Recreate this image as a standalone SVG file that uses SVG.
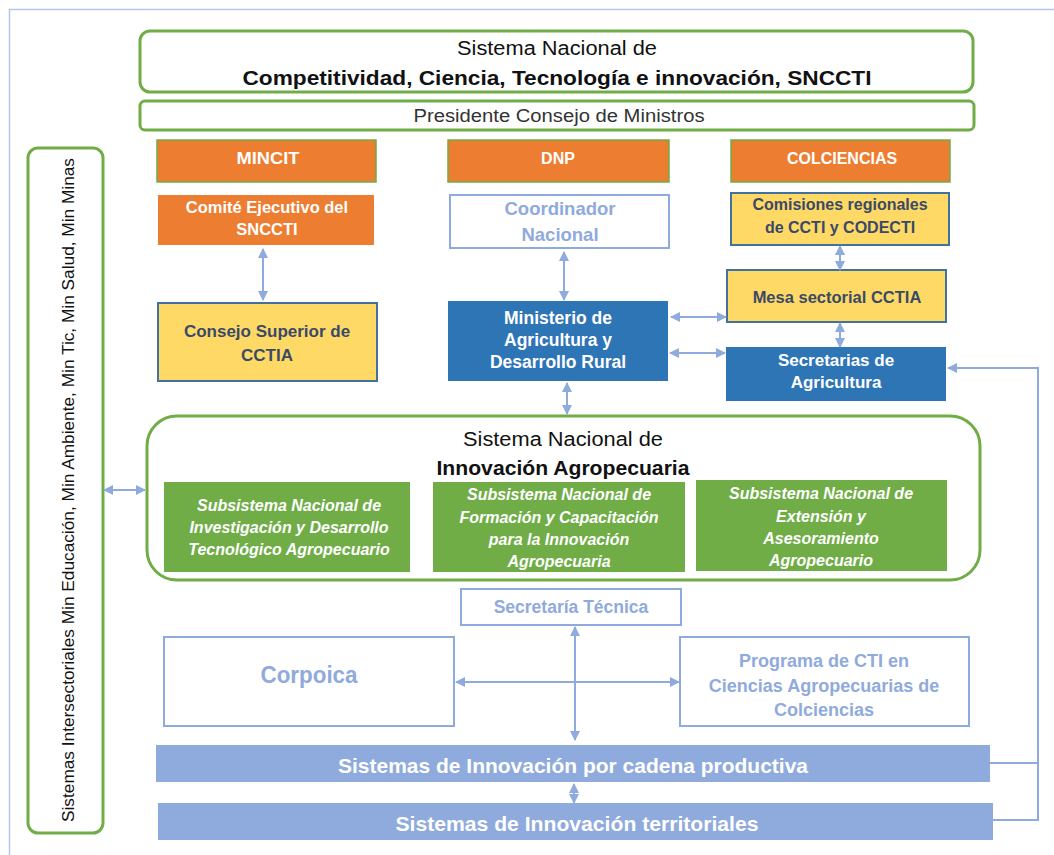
<svg xmlns="http://www.w3.org/2000/svg" width="1054" height="855" viewBox="0 0 1054 855">
<style>
text{font-family:"Liberation Sans",Arial,sans-serif;text-anchor:middle;dominant-baseline:central}
.gframe{fill:#fff;stroke:#70AD47;stroke-width:3}
.org{fill:#ED7D31}
.orgs{fill:#ED7D31;stroke:#70AD47;stroke-width:1.5}
.yel{fill:#FFD966;stroke:#41719C;stroke-width:2}
.blu{fill:#2E75B6}
.lbx{fill:#fff;stroke:#8FAADC;stroke-width:2}
.grn{fill:#70AD47}
.lbf{fill:#8FAADC}
.wt{fill:#fff;font-weight:bold}
.dk{fill:#3A4A66;font-weight:bold}
.lt{fill:#8FAADC;font-weight:bold}
.it{fill:#fff;font-weight:bold;font-style:italic}
.bk{fill:#111}
.con{fill:none;stroke:#8FAADC;stroke-width:2}
</style>
<defs>
<marker id="ah" viewBox="0 0 10 10" refX="9" refY="5" markerWidth="10" markerHeight="10" markerUnits="userSpaceOnUse" orient="auto-start-reverse">
<path d="M0,0 L10,5 L0,10 Z" fill="#8FAADC"/>
</marker>
</defs>
<path d="M9.5,855 V9.5 H1054" fill="none" stroke="#B4C7E7" stroke-width="1.5"/>

<g id="sncct">
<rect class="gframe" x="140" y="31" width="833" height="61" rx="10"/>
<text x="557" y="48" class="bk" font-size="20" textLength="200" lengthAdjust="spacingAndGlyphs">Sistema Nacional de</text>
<text x="557" y="77" class="bk" font-size="21" font-weight="bold" textLength="629" lengthAdjust="spacingAndGlyphs">Competitividad, Ciencia, Tecnología e innovación, SNCCTI</text>
</g>
<g id="presidente">
<rect class="gframe" x="140" y="101" width="834" height="29" rx="5"/>
<text x="559" y="116" fill="#333" font-size="18" textLength="291" lengthAdjust="spacingAndGlyphs">Presidente Consejo de Ministros</text>
</g>

<g id="mincit"><rect class="orgs" x="157" y="140" width="219" height="42"/><text class="wt" x="268" y="158" font-size="16" textLength="63" lengthAdjust="spacingAndGlyphs">MINCIT</text></g>
<g id="dnp"><rect class="orgs" x="448" y="140" width="221" height="42"/><text class="wt" x="558" y="158" font-size="16">DNP</text></g>
<g id="colciencias"><rect class="orgs" x="731" y="140" width="219" height="42"/><text class="wt" x="842" y="158" font-size="16">COLCIENCIAS</text></g>

<g id="comite"><rect class="org" x="158" y="195" width="216" height="50"/>
<text class="wt" x="267" y="207" font-size="16.5">Comité Ejecutivo del</text><text class="wt" x="267" y="229" font-size="16.5">SNCCTI</text></g>
<g id="coordinador"><rect class="lbx" x="450" y="195" width="219" height="53"/>
<text class="lt" x="560" y="208" font-size="18.5">Coordinador</text><text class="lt" x="560" y="234" font-size="18.5">Nacional</text></g>
<g id="comisiones"><rect class="yel" x="731" y="193" width="218" height="52"/>
<text class="dk" x="840" y="204" font-size="16">Comisiones regionales</text><text class="dk" x="840" y="227" font-size="16">de CCTI y CODECTI</text></g>

<g id="consejo"><rect class="yel" x="158" y="303" width="219" height="78"/>
<text class="dk" x="267" y="331" font-size="17">Consejo Superior de</text><text class="dk" x="267" y="355" font-size="17">CCTIA</text></g>
<g id="ministerio"><rect class="blu" x="448" y="301" width="220" height="80"/>
<text class="wt" x="558" y="318" font-size="17.5">Ministerio de</text><text class="wt" x="558" y="340" font-size="17.5">Agricultura y</text><text class="wt" x="558" y="362" font-size="17.5">Desarrollo Rural</text></g>
<g id="mesa"><rect class="yel" x="727" y="270" width="219" height="52"/>
<text class="dk" x="837" y="297" font-size="16.5">Mesa sectorial CCTIA</text></g>
<g id="secretarias"><rect class="blu" x="726" y="347" width="220" height="54"/>
<text class="wt" x="836" y="360" font-size="17">Secretarias de</text><text class="wt" x="836" y="382" font-size="17">Agricultura</text></g>

<g id="intersectoriales"><rect class="gframe" x="28" y="148" width="75" height="685" rx="10"/>
<text x="68" y="490" class="bk" font-size="17" textLength="664" lengthAdjust="spacingAndGlyphs" transform="rotate(-90 68 490)">Sistemas Intersectoriales Min Educación, Min Ambiente, Min Tic, Min Salud, Min Minas</text></g>

<g id="snia"><rect class="gframe" x="147" y="416" width="833" height="164" rx="30"/>
<text x="563" y="439" class="bk" font-size="20" textLength="200" lengthAdjust="spacingAndGlyphs">Sistema Nacional de</text>
<text x="563" y="467" class="bk" font-size="20.5" font-weight="bold" textLength="253" lengthAdjust="spacingAndGlyphs">Innovación Agropecuaria</text></g>
<g id="sub1"><rect class="grn" x="164" y="482" width="246" height="90"/>
<text class="it" x="289" y="505" font-size="16">Subsistema Nacional de</text><text class="it" x="289" y="527" font-size="16">Investigación y Desarrollo</text><text class="it" x="289" y="549" font-size="16">Tecnológico Agropecuario</text></g>
<g id="sub2"><rect class="grn" x="433" y="482" width="252" height="90"/>
<text class="it" x="559" y="494" font-size="16">Subsistema Nacional de</text><text class="it" x="559" y="517" font-size="16">Formación y Capacitación</text><text class="it" x="559" y="539" font-size="16">para la Innovación</text><text class="it" x="559" y="561" font-size="16">Agropecuaria</text></g>
<g id="sub3"><rect class="grn" x="696" y="480" width="251" height="91"/>
<text class="it" x="821" y="493" font-size="16">Subsistema Nacional de</text><text class="it" x="821" y="516" font-size="16">Extensión y</text><text class="it" x="821" y="538" font-size="16">Asesoramiento</text><text class="it" x="821" y="560" font-size="16">Agropecuario</text></g>

<g id="sectecnica"><rect class="lbx" x="461" y="589" width="220" height="36"/>
<text class="lt" x="571" y="607" font-size="17.5">Secretaría Técnica</text></g>
<g id="corpoica"><rect class="lbx" x="164" y="637" width="290" height="89"/>
<text class="lt" x="309" y="674" font-size="24" textLength="97" lengthAdjust="spacingAndGlyphs">Corpoica</text></g>
<g id="programa"><rect class="lbx" x="680" y="637" width="289" height="89"/>
<text class="lt" x="824" y="661" font-size="18">Programa de CTI en</text><text class="lt" x="824" y="686" font-size="18">Ciencias Agropecuarias de</text><text class="lt" x="824" y="710" font-size="18">Colciencias</text></g>

<g id="cadena"><rect class="lbf" x="156" y="745" width="834" height="37"/>
<text class="wt" x="573" y="765" font-size="20.5" textLength="470" lengthAdjust="spacingAndGlyphs">Sistemas de Innovación por cadena productiva</text></g>
<g id="territoriales"><rect class="lbf" x="158" y="803" width="835" height="37"/>
<text class="wt" x="577" y="823" font-size="20.5" textLength="363" lengthAdjust="spacingAndGlyphs">Sistemas de Innovación territoriales</text></g>

<g id="connectors">
<path class="con" d="M263,249 V300" marker-start="url(#ah)" marker-end="url(#ah)"/>
<path class="con" d="M564,252 V300" marker-start="url(#ah)" marker-end="url(#ah)"/>
<path class="con" d="M840,246 V270" marker-start="url(#ah)" marker-end="url(#ah)"/>
<path class="con" d="M840,323 V347" marker-start="url(#ah)" marker-end="url(#ah)"/>
<path class="con" d="M671,317 H726" marker-start="url(#ah)" marker-end="url(#ah)"/>
<path class="con" d="M670,353 H725" marker-start="url(#ah)" marker-end="url(#ah)"/>
<path class="con" d="M567,383 V414" marker-start="url(#ah)" marker-end="url(#ah)"/>
<path class="con" d="M104,490 H145" marker-start="url(#ah)" marker-end="url(#ah)"/>
<path class="con" d="M575,627 V740" marker-start="url(#ah)" marker-end="url(#ah)"/>
<path class="con" d="M456,682 H679" marker-start="url(#ah)" marker-end="url(#ah)"/>
<path class="con" d="M574,784 V803" marker-start="url(#ah)" marker-end="url(#ah)"/>
<path class="con" d="M990,763 H1038"/>
<path class="con" d="M993,820 H1038 V368 H948" marker-end="url(#ah)"/>
</g>
</svg>
